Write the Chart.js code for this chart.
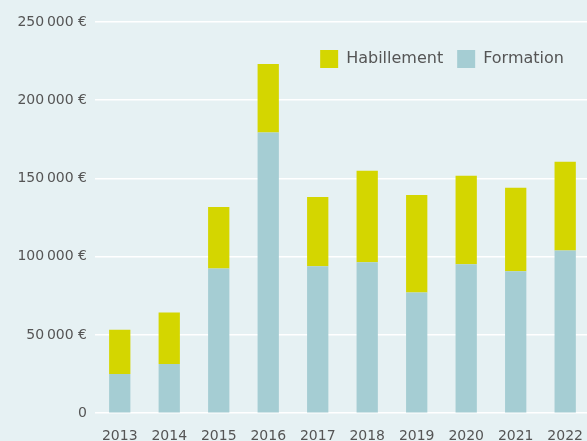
<!DOCTYPE html>
<html lang="fr">
<head>
<meta charset="utf-8">
<script src="https://cdn.jsdelivr.net/npm/chart.js@4/dist/chart.umd.min.js"></script>
<style>
  html, body { margin: 0; padding: 0; overflow: hidden; background: #e6f1f3; }
  #budgetChart { position: absolute; left: 0; top: 0; }
</style>
</head>
<body>
<canvas id="budgetChart" width="598" height="460"></canvas>
<script>
const years = ["2013", "2014", "2015", "2016", "2017", "2018", "2019", "2020", "2021", "2022"];
const formation = [25000, 31500, 92400, 179400, 93900, 96500, 77200, 95200, 90700, 104000];
const habillement = [28400, 32800, 39400, 43700, 44300, 58500, 62300, 56500, 53300, 56700];
const yTicks = [0, 50000, 100000, 150000, 200000, 250000];

const textColor = "#555";

function euro(v) {
  if (v === 0) return "0";
  return String(v).replace(/\B(?=(\d{3})+(?!\d))/g, "\u202f") + "\u00a0€";
}

const budgetCanvas = document.getElementById("budgetChart");
const budgetChart = new Chart(budgetCanvas, {
  type: "bar",
  data: {
    labels: years,
    datasets: [
      {
        label: "Formation",
        data: formation,
        backgroundColor: "#a5cdd3",
      },
      {
        label: "Habillement",
        data: habillement,
        backgroundColor: "#d4d600",
      },
    ],
  },
  options: {
    responsive: false,
    animation: false,
    categoryPercentage: 1,
    barPercentage: 0.43,
    layout: {
      padding: { top: 22, right: 0, bottom: 0, left: 0 },
    },
    scales: {
      x: {
        stacked: true,
        grid: { display: false, drawTicks: false },
        border: { display: false },
        ticks: {
          color: textColor,
          padding: 15,
          font: { family: "DejaVu Sans", size: 14 },
        },
      },
      y: {
        stacked: true,
        min: 0,
        max: 250000,
        afterBuildTicks: (scale) => {
          scale.ticks = yTicks.map((v) => ({ value: v }));
        },
        afterFit: (scale) => {
          scale.width = 95;
        },
        grid: {
          color: "#ffffff",
          lineWidth: 1.5,
          drawTicks: false,
        },
        border: { display: false },
        ticks: {
          color: textColor,
          padding: 8,
          font: { family: "DejaVu Sans", size: 14 },
          callback: (value) => euro(value),
        },
      },
    },
    plugins: {
      tooltip: { enabled: false },
      legend: {
        position: "chartArea",
        align: "end",
        reverse: true,
        labels: {
          boxWidth: 18,
          boxHeight: 18,
          padding: 14,
          color: textColor,
          font: { family: "DejaVu Sans", size: 16 },
        },
      },
    },
  },
  plugins: [
    {
      // legend sits in a single row inside the plot, top right
      id: "legend_row",
      beforeLayout: (chart) => {
        chart.legend.isHorizontal = () => true;
      },
      afterLayout: (chart) => {
        const legend = chart.legend;
        const area = chart.chartArea;
        legend.left = area.left;
        legend.right = area.right - 12;
        legend.top = area.top + 14;
        legend.bottom = legend.top + legend.height;
      },
    },
    {
      id: "custom_canvas_background_color",
      beforeDraw: (myChart) => {
        const { ctx } = myChart;
        ctx.save();
        ctx.globalCompositeOperation = "destination-over";
        ctx.fillStyle = "#e6f1f3";
        ctx.fillRect(0, 0, myChart.width, myChart.height);
        ctx.restore();
      },
    },
  ],
});
</script>
</body>
</html>
